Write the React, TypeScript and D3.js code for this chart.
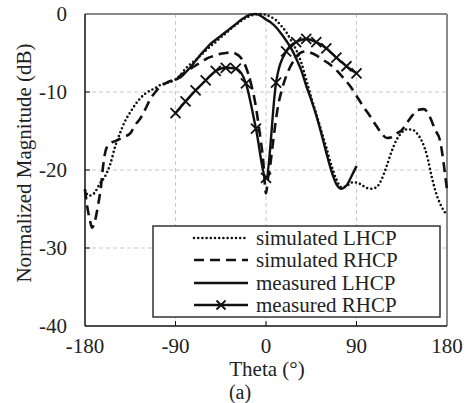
import * as d3 from "d3"

// simulated LHCP (dotted)
const simLhcpTheta = [-180, -176, -171, -165, -160, -155, -150, -145, -140, -135, -130, -125, -120, -115, -110, -105, -100, -95, -90, -85, -80, -75, -70, -65, -60, -55, -50, -45, -40, -35, -30, -25, -20, -15, -10, -5, 0, 5, 10, 15, 20, 25, 30, 35, 40, 45, 50, 55, 60, 65, 70, 75, 80, 85, 90, 95, 100, 105, 110, 115, 120, 125, 130, 135, 140, 145, 150, 155, 160, 165, 170, 175, 180]
const simLhcpDb = [-22.6, -23.3, -23.0, -21.7, -20.8, -19.3, -17.0, -15.2, -13.7, -12.6, -11.6, -10.8, -10.2, -9.8, -9.5, -9.1, -8.9, -8.7, -8.4, -7.8, -7.0, -6.4, -5.9, -5.3, -4.7, -4.1, -3.6, -3.0, -2.5, -1.9, -1.4, -0.9, -0.5, -0.2, -0.05, 0, -0.1, -0.4, -0.8, -1.5, -2.3, -3.4, -4.6, -6.2, -8.4, -10.7, -12.8, -15.0, -17.1, -19.4, -21.2, -22.2, -22.1, -21.6, -21.6, -21.9, -22.3, -22.4, -22.2, -21.2, -19.5, -17.6, -16.1, -15.2, -14.8, -14.8, -15.3, -16.3, -18.1, -21.0, -23.3, -24.8, -25.8]

// simulated RHCP (dashed)
const simRhcpTheta = [-180, -178, -175, -173, -170, -167, -164, -162, -159, -155, -150, -145, -140, -135, -130, -125, -120, -115, -110, -105, -100, -95, -90, -85, -80, -75, -70, -65, -60, -55, -50, -45, -40, -35, -30, -25, -20, -15, -11, -6, -3, 0, 2, 4, 6, 9, 12, 16, 20, 24, 28, 34, 40, 45, 50, 57, 64, 70, 77, 84, 90, 97, 104, 110, 115, 120, 125, 130, 135, 140, 145, 151, 157, 163, 168, 173, 176, 178, 180]
const simRhcpDb = [-22.5, -24.5, -26.5, -27.4, -26.5, -24.5, -22.0, -19.5, -17.3, -16.6, -16.3, -16.0, -15.7, -15.3, -14.2, -13.4, -12.2, -10.9, -10.0, -9.3, -8.9, -8.6, -8.4, -7.9, -7.4, -7.0, -6.6, -6.2, -5.8, -5.5, -5.3, -5.1, -5.0, -4.9, -5.1, -5.6, -6.8, -8.9, -11.2, -15.5, -18.5, -23.0, -21.0, -19.6, -17.5, -14.4, -11.8, -9.6, -8.0, -6.8, -5.9, -5.0, -4.8, -5.0, -5.3, -5.9, -6.5, -7.2, -8.2, -9.3, -10.5, -11.9, -13.2, -14.4, -15.3, -15.9, -15.8, -15.3, -14.9, -14.0, -13.1, -12.3, -12.2, -13.2, -14.8, -16.2, -18.5, -20.5, -22.5]

// measured LHCP (solid)
const measLhcpTheta = [-90, -85, -80, -75, -70, -65, -60, -55, -50, -45, -40, -35, -30, -25, -20, -15, -10, -5, 0, 5, 10, 15, 20, 25, 30, 35, 40, 45, 50, 55, 60, 65, 70, 75, 80, 85, 90]
const measLhcpDb = [-8.4, -8.1, -7.5, -6.8, -6.0, -5.2, -4.5, -3.8, -3.3, -2.8, -2.3, -1.8, -1.3, -0.75, -0.35, -0.05, 0, -0.25, -0.7, -1.1, -1.7, -2.5, -3.4, -4.4, -5.7, -7.2, -9.2, -11.0, -13.0, -15.3, -17.8, -20.1, -21.8, -22.4, -22.0, -20.8, -19.5]

// measured RHCP (solid with x markers)
const measRhcpTheta = [-90, -80, -70, -60, -50, -40, -30, -20, -10, 0, 10, 20, 30, 40, 50, 60, 70, 80, 90]
const measRhcpDb = [-12.7, -11.2, -9.8, -8.5, -7.3, -6.9, -7.0, -8.9, -14.7, -21.0, -8.8, -4.8, -3.6, -3.2, -3.6, -4.4, -5.6, -6.7, -7.6]

const xTicks = [-180, -90, 0, 90, 180]
const yTicks = [0, -10, -20, -30, -40]
const legendLabels = ["simulated LHCP", "simulated RHCP", "measured LHCP", "measured RHCP"]

const font = '"Liberation Serif", "DejaVu Serif", "Times New Roman", Times, serif'
const ink = "#111"
const textColor = "#222"

function Cross({ cx, cy, r = 5 }: { cx: number; cy: number; r?: number }) {
    return (
        <path
            d={`M${cx - r},${cy - r}L${cx + r},${cy + r}M${cx - r},${cy + r}L${cx + r},${cy - r}`}
            stroke={ink}
            strokeWidth={1.8}
            fill="none"
        />
    )
}

export default function App() {
    const width = 471
    const height = 403
    const left = 85
    const right = 447
    const top = 14
    const bottom = 326

    const x = d3.scaleLinear().domain([-180, 180]).range([left, right])
    const y = d3.scaleLinear().domain([-40, 0]).range([bottom, top])

    const line = d3
        .line<[number, number]>()
        .x((d) => x(d[0]))
        .y((d) => y(d[1]))
        .curve(d3.curveMonotoneX)

    const pts = (t: number[], v: number[]) => t.map((d, i) => [d, v[i]] as [number, number])

    const styles = [
        { dash: "0 4.2", width: 2.6, cap: "round" as const },
        { dash: "10 6", width: 2.6, cap: "butt" as const },
        { dash: "none", width: 2.4, cap: "butt" as const },
        { dash: "none", width: 2.4, cap: "butt" as const },
    ]
    const series = [
        pts(simLhcpTheta, simLhcpDb),
        pts(simRhcpTheta, simRhcpDb),
        pts(measLhcpTheta, measLhcpDb),
        pts(measRhcpTheta, measRhcpDb),
    ]

    const legend = { x: 153, y: 226, w: 287, h: 91 }
    const rowY = [238, 260, 283, 305]
    const txt = { fontFamily: font, fontSize: 21, fill: textColor }

    return (
        <svg
            width={width}
            height={height}
            style={{ position: "absolute", left: 0, top: 0, background: "#fff", fontFamily: font }}
        >
            {/* Grid */}
            {xTicks.slice(1, -1).map((t) => (
                <line key={`gx${t}`} x1={x(t)} x2={x(t)} y1={top} y2={bottom} stroke="#c8c8c8" strokeDasharray="4 3" />
            ))}
            {yTicks.slice(1, -1).map((t) => (
                <line key={`gy${t}`} x1={left} x2={right} y1={y(t)} y2={y(t)} stroke="#c8c8c8" strokeDasharray="4 3" />
            ))}

            {/* Frame top/right */}
            <line x1={left} x2={right} y1={top} y2={top} stroke="#8a8a8a" strokeWidth={2} />
            <line x1={right} x2={right} y1={top} y2={bottom} stroke="#8a8a8a" strokeWidth={2} />

            {/* Curves */}
            {series.map((s, i) => (
                <path
                    key={i}
                    d={line(s) ?? ""}
                    fill="none"
                    stroke={ink}
                    strokeWidth={styles[i].width}
                    strokeDasharray={styles[i].dash}
                    strokeLinecap={styles[i].cap}
                    strokeLinejoin="round"
                />
            ))}
            {series[3].map((d, i) => (
                <Cross key={`m${i}`} cx={x(d[0])} cy={y(d[1])} />
            ))}

            {/* Legend */}
            <rect x={legend.x} y={legend.y} width={legend.w} height={legend.h} fill="#fff" stroke="#333" strokeWidth={1.5} />
            {legendLabels.map((lab, i) => (
                <g key={lab}>
                    <line
                        x1={194}
                        x2={248}
                        y1={rowY[i]}
                        y2={rowY[i]}
                        stroke={ink}
                        strokeWidth={styles[i].width}
                        strokeDasharray={styles[i].dash}
                        strokeLinecap={styles[i].cap}
                    />
                    {i === 3 && <Cross cx={221} cy={rowY[i]} r={4.5} />}
                    <text x={256} y={rowY[i]} dy="0.35em" style={txt}>
                        {lab}
                    </text>
                </g>
            ))}

            {/* Axes */}
            <line x1={left} x2={left} y1={top} y2={bottom} stroke={ink} strokeWidth={1.5} />
            <line x1={left} x2={right} y1={bottom} y2={bottom} stroke={ink} strokeWidth={1.5} />
            {xTicks.slice(1, -1).map((t) => (
                <line key={`tx${t}`} x1={x(t)} x2={x(t)} y1={bottom} y2={bottom - 5} stroke={ink} strokeWidth={1} />
            ))}
            {yTicks.slice(1, -1).map((t) => (
                <line key={`ty${t}`} x1={left} x2={left + 5} y1={y(t)} y2={y(t)} stroke={ink} strokeWidth={1} />
            ))}
            {xTicks.map((t) => (
                <text key={`lx${t}`} x={x(t)} y={353} textAnchor="middle" style={txt}>
                    {t}
                </text>
            ))}
            {yTicks.map((t) => (
                <text key={`ly${t}`} x={67} y={y(t)} dy="0.35em" textAnchor="end" style={txt}>
                    {t}
                </text>
            ))}

            <text transform="translate(31,163) rotate(-90)" textAnchor="middle" style={txt}>
                Normalized Magnitude (dB)
            </text>
            <text x={267} y={376} textAnchor="middle" style={txt}>
                Theta (°)
            </text>
            <text x={240} y={399} textAnchor="middle" style={{ ...txt, fontSize: 20 }}>
                (a)
            </text>
        </svg>
    )
}
